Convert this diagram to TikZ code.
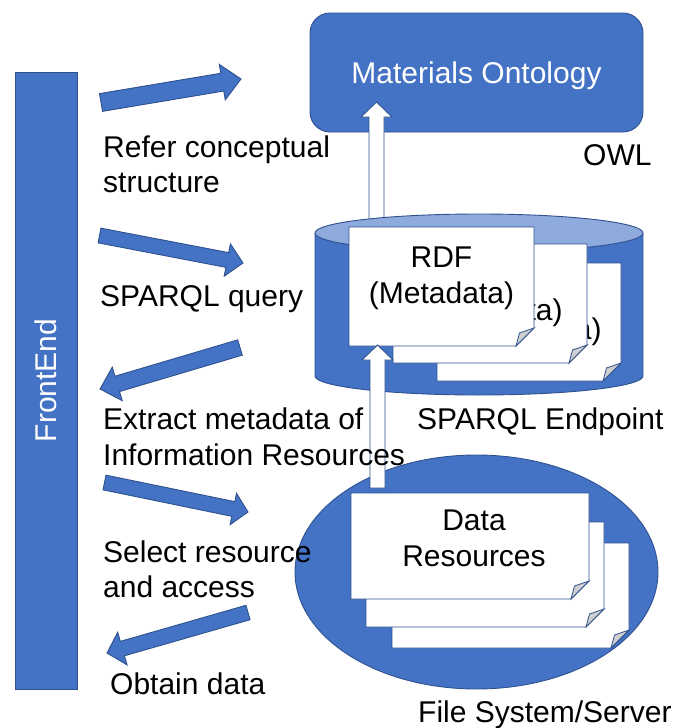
\documentclass[tikz,border=0pt]{standalone}
\usepackage{fontspec}
\setmainfont{Liberation Sans}
\usetikzlibrary{calc,shapes.geometric}

\definecolor{pptblue}{HTML}{4472C4}
\definecolor{pptedge}{HTML}{2F528F}
\definecolor{pptlight}{HTML}{8FAADC}
\definecolor{foldgray}{HTML}{CFCFCF}

\newcommand\bigtext{\fontsize{30}{35.5}\selectfont}

\tikzset{
  edge/.style={draw=pptedge, line width=0.9pt},
  bluebox/.style={edge, fill=pptblue, inner sep=0, text=white, font=\bigtext},
  solidarrow/.style={edge, fill=pptblue},
  hollowarrow/.style={edge, fill=white},
  docedge/.style={draw=pptedge, line width=0.8pt},
  % multi-line labels are placed by the baseline of their last line
  lbl/.style={inner sep=0, align=left, anchor=base west, font=\bigtext},
  doctext/.style={inner sep=0, align=center, anchor=base, font=\bigtext},
}

% block arrow: style, tail, tip, shaft half width, head half width, head length
\newcommand\blockarrow[6]{%
  \coordinate (#2-hb) at ($(#3)!#6!(#2)$);
  \draw[#1] ($(#2)!#4!90:(#3)$) -- ($(#2-hb)!#4!90:(#3)$) -- ($(#2-hb)!#5!90:(#3)$)
    -- (#3) -- ($(#2-hb)!#5!-90:(#3)$) -- ($(#2-hb)!#4!-90:(#3)$) -- ($(#2)!#4!-90:(#3)$) -- cycle;}

% sheet with a folded lower right corner: name, left, top, right, bottom
\newcommand\docsheet[5]{%
  \coordinate (#1) at ({(#2+#4)/2},{(#3+#5)/2});
  \draw[docedge, fill=white] (#2,#3) -- (#4,#3) -- (#4,#5-18) -- (#4-18,#5) -- (#2,#5) -- cycle;
  \draw[docedge, fill=foldgray] (#4,#5-18) -- (#4-18,#5) -- (#4-14.5,#5-13) -- cycle;}

\begin{document}
\begin{tikzpicture}[x=1pt, y=-1pt]
\useasboundingbox (0,0) rectangle (674,728);

% front end column
\node[bluebox, rotate=90, minimum width=617, minimum height=62] (frontend) at (46,380.5) {FrontEnd};

% ontology
\node[bluebox, rounded corners=20pt, minimum width=333, minimum height=119, text depth=0pt] (onto) at (476.5,72.5) {Materials Ontology};

% endpoint -> ontology (starts under the cylinder lid)
\coordinate (uptail) at (376.5,232);
\coordinate (uptip) at (376.5,102);
\blockarrow{hollowarrow}{uptail}{uptip}{7.5pt}{15.5pt}{15pt}

% SPARQL endpoint cylinder
\fill[pptblue] (315,233) rectangle (643,376);
\fill[pptblue] (479,376) ellipse[x radius=164, y radius=19];
\draw[edge] (315,233) -- (315,376) arc[start angle=180, end angle=0, x radius=164, y radius=19] -- (643,233);
\draw[edge, fill=pptlight] (479,233) ellipse[x radius=164, y radius=19];
\node[minimum width=328, minimum height=181, inner sep=0] (endpoint) at (479,304.5) {};

% RDF sheets
\docsheet{rdfc}{437}{263}{621}{381}
\node[doctext] (rdfctext) at (529,339) {RDF\\(Metadata)};
\docsheet{rdfb}{393}{244}{587}{363}
\node[doctext] (rdfbtext) at (490,320) {RDF\\(Metadata)};
\docsheet{rdfa}{349}{227}{534}{346}
\node[doctext] (rdfatext) at (441.5,303) {RDF\\(Metadata)};

% file system
\node[ellipse, edge, fill=pptblue, minimum width=363, minimum height=234, inner sep=0] (fs) at (476.5,572) {};
\docsheet{drc}{392}{543}{629}{648}
\docsheet{drb}{366}{522}{604}{627}
\docsheet{dra}{351}{493}{589}{599}
\node[doctext] (datatext) at (474,566) {Data\\Resources};

% data resources -> RDF
\coordinate (midtail) at (377.5,488);
\coordinate (midtip) at (377.5,345);
\blockarrow{hollowarrow}{midtail}{midtip}{7.5pt}{15.5pt}{15pt}

% interaction arrows of the front end
\coordinate (a1t) at (101,102.5);  \coordinate (a1h) at (241,79);
\coordinate (a2t) at (99.5,235.5); \coordinate (a2h) at (243,263);
\coordinate (a3t) at (240,347.5);  \coordinate (a3h) at (100,389);
\coordinate (a4t) at (104.5,482.5);\coordinate (a4h) at (248,512);
\coordinate (a5t) at (248,612.5);  \coordinate (a5h) at (107,653);
\blockarrow{solidarrow}{a1t}{a1h}{9pt}{18pt}{19pt}
\blockarrow{solidarrow}{a2t}{a2h}{7.5pt}{16.5pt}{16pt}
\blockarrow{solidarrow}{a3t}{a3h}{8pt}{17.5pt}{18pt}
\blockarrow{solidarrow}{a4t}{a4h}{7.5pt}{16pt}{15pt}
\blockarrow{solidarrow}{a5t}{a5h}{7.5pt}{17pt}{16pt}

% labels
\node[lbl] (refer) at (103,192.5) {Refer conceptual\\structure};
\node[lbl] (query) at (100,306) {SPARQL query};
\node[lbl] (extract) at (103,465) {Extract metadata of\\Information Resources};
\node[lbl] (select) at (103,597.5) {Select resource\\and access};
\node[lbl] (obtain) at (110,694) {Obtain data};
\node[lbl] (owl) at (583,165) {OWL};
\node[lbl] (eplabel) at (417,429) {SPARQL Endpoint};
\node[lbl] (fslabel) at (418,722) {File System/Server};
\end{tikzpicture}
\end{document}
